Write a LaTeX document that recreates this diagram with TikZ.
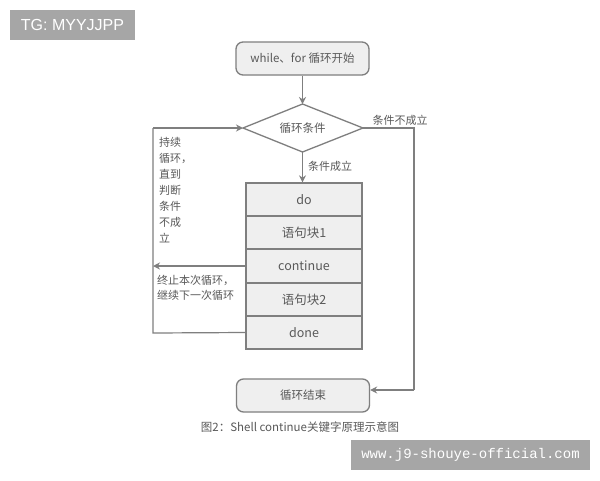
\documentclass[tikz,border=0pt]{standalone}
\usepackage{fontspec}
\setmainfont{Noto Sans CJK SC}
\newfontfamily\tgfont{Liberation Sans}
\newfontfamily\wmfont{Liberation Mono}
\usetikzlibrary{shapes.geometric,arrows.meta}
\definecolor{lnc}{HTML}{7F7F7F}
\definecolor{fillc}{HTML}{EFEFEF}
\definecolor{txtc}{HTML}{595959}
\definecolor{wmc}{HTML}{A6A6A6}
\begin{document}
\begin{tikzpicture}[x=1pt,y=-1pt,
  every node/.style={text=txtc,inner sep=0pt},
  rbox/.style={draw=lnc,fill=fillc,line width=1.3pt,rounded corners=7pt,minimum width=133pt,minimum height=33pt,font=\fontsize{11.5}{13}\selectfont},
  cell/.style={draw=lnc,fill=fillc,line width=1.3pt,minimum width=116pt,minimum height=33pt,font=\fontsize{12.5}{14}\selectfont},
  conn/.style={draw=lnc,line width=1.2pt,-{Stealth[length=7pt,width=7pt]}},
  plain/.style={draw=lnc,line width=1.2pt},
  lbl/.style={font=\fontsize{11}{16}\selectfont,align=left},
  wm/.style={fill=wmc,text=white}]
\useasboundingbox (0,0) rectangle (600,480);
\fill[white] (0,0) rectangle (600,480);
\node[wm,minimum width=125pt,minimum height=30pt,font=\tgfont\fontsize{16}{18}\selectfont] (tg) at (72.5,25) {TG: MYYJJPP};
\node[rbox] (start) at (302.5,58.5) {while、for 循环开始};
\path[draw=lnc,fill=white,line width=1.3pt] (243,128) -- (302.5,104) -- (363,128) -- (302.5,152) -- cycle;
\coordinate (dtop) at (302.5,104);
\coordinate (dbot) at (302.5,152);
\coordinate (dleft) at (243,128);
\coordinate (dright) at (363,128);
\node[font=\fontsize{11.5}{13}\selectfont] (dia) at (302.5,128) {循环条件};
\node[cell] (c1) at (304,199.5) {do};
\node[cell] (c2) at (304,232.5) {语句块1};
\node[cell] (c3) at (304,266) {continue};
\node[cell] (c4) at (304,299.5) {语句块2};
\node[cell] (c5) at (304,332.5) {done};
\node[rbox] (end) at (303,395.5) {循环结束};
\draw[conn] (start.south) -- (dtop);
\draw[conn] (dbot) -- (c1.north -| dbot);
\node[lbl,anchor=west] (yes) at (308,166) {条件成立};
\coordinate (rc) at (414,128);
\coordinate (rb) at (414,390);
\draw[plain] (dright) -- (rc) -- (rb);
\draw[conn] (rb) -- (end.east |- rb);
\node[lbl,anchor=south] (no) at (400,126) {条件不成立};
\coordinate (cl) at (153,266);
\draw[conn] (c3.west) -- (cl);
\node[lbl,anchor=north west,font=\fontsize{11}{15}\selectfont] (stop) at (157,275) {终止本次循环，\\继续下一次循环};
\coordinate (dl) at (153,333);
\coordinate (ul) at (153,128);
\draw[plain] (c5.west) -- (dl) -- (ul);
\draw[conn] (ul) -- (dleft);
\node[lbl,anchor=north west,font=\fontsize{11}{16}\selectfont] (keep) at (159,137) {持续\\循环，\\直到\\判断\\条件\\不成\\立};
\node[font=\fontsize{11.5}{13}\selectfont] (cap) at (300,427) {图2：Shell continue关键字原理示意图};
\node[wm,minimum width=239pt,minimum height=30pt,font=\wmfont\fontsize{14}{16}\selectfont] (wmk) at (470.5,455) {www.j9-shouye-official.com};
\end{tikzpicture}
\end{document}
